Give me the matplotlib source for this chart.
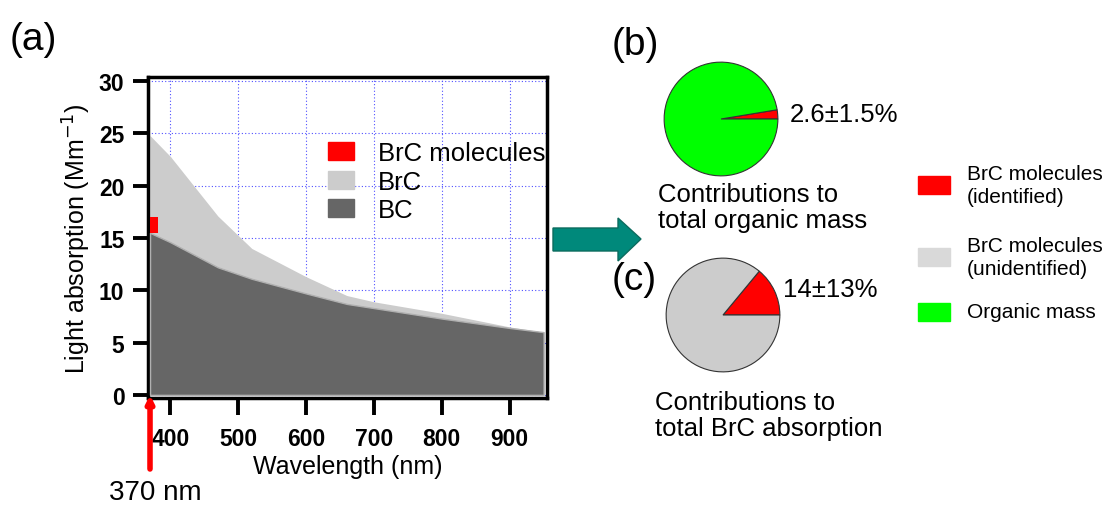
import matplotlib
matplotlib.use("Agg")
import matplotlib.pyplot as plt
from matplotlib.patches import Patch, Polygon

plt.rcParams["font.family"] = ["Liberation Sans", "DejaVu Sans"]

# absorption spectra (Mm-1)
wavelength = [370, 400, 470, 520, 600, 660, 700, 800, 900, 950]
bc_abs = [15.5, 14.6, 12.2, 11.1, 9.7, 8.7, 8.3, 7.3, 6.4, 6.0]
total_abs = [24.8, 22.8, 17.1, 14.0, 11.3, 9.5, 8.9, 7.8, 6.5, 6.0]

# BrC molecules at 370 nm, stacked on BC
mol_wl = 376
mol_bottom = 15.5
mol_height = 1.5

# pie fractions (%)
mass_frac = [2.6, 97.4]
brc_frac = [14, 86]
mass_label = "2.6±1.5%"
brc_label = "14±13%"

W, H = 1114, 506
fig = plt.figure(figsize=(W / 100, H / 100), dpi=100)


def fx(px):
    return px / W


def fy(py):
    return 1 - py / H


# ---- panel (a)
ax = fig.add_axes([fx(148), fy(399), fx(547) - fx(148), fy(78) - fy(399)])
ax.fill_between(wavelength, 0, total_abs, color="#cccccc", lw=0, zorder=2)
ax.fill_between(wavelength, 0, bc_abs, facecolor="#666666", edgecolor="#b0b0b0",
                lw=1, zorder=3)
ax.bar(mol_wl, mol_height, bottom=mol_bottom, width=12, color="red", zorder=4)

ax.set_xlim(367, 955)
ax.set_ylim(-0.3, 30.4)
ax.set_xticks([400, 500, 600, 700, 800, 900])
ax.set_yticks([0, 5, 10, 15, 20, 25, 30])
ax.grid(True, color="#5050ff", ls=(0, (1, 2)), lw=0.8, zorder=1)
ax.set_axisbelow(True)
for s in ax.spines.values():
    s.set_linewidth(2.5)
ax.tick_params(axis="x", direction="out", length=12, width=2.8, labelsize=16.5, pad=9)
ax.tick_params(axis="y", direction="out", length=10.5, width=2.8, labelsize=16.5, pad=6.5)
for lab in ax.get_xticklabels() + ax.get_yticklabels():
    lab.set_fontweight("bold")
ax.set_xlabel("Wavelength (nm)", fontsize=18, labelpad=3)
ax.set_ylabel("Light absorption (Mm$^{-1}$)", fontsize=18, labelpad=4)

handles = [Patch(color="red"), Patch(color="#cccccc"), Patch(color="#666666")]
ax.legend(handles, ["BrC molecules", "BrC", "BC"], frameon=False, fontsize=18.5,
          loc="upper left", bbox_to_anchor=(fx(328), fy(142)),
          bbox_transform=fig.transFigure, handlelength=1.0, handleheight=0.7,
          handletextpad=0.93, labelspacing=0.18, borderpad=0, borderaxespad=0)

fig.text(fx(10), fy(40), "(a)", fontsize=28, va="center", ha="left")

# 370 nm marker
ax.annotate("", xy=(370, 0), xycoords="data", xytext=(fx(150), fy(470)),
            textcoords="figure fraction",
            arrowprops=dict(arrowstyle="-|>", color="red", lw=4,
                            mutation_scale=10, shrinkA=0, shrinkB=0),
            annotation_clip=False)
fig.text(fx(155), fy(493), "370 nm", fontsize=20, ha="center", va="center")

# teal arrow
arrow_px = [(553, 229), (618, 229), (618, 219), (641, 240), (618, 262),
            (618, 252), (553, 252)]
fig.add_artist(Polygon([(fx(x), fy(y)) for x, y in arrow_px], closed=True,
                       facecolor="#00897B", edgecolor="#0b6b5e", lw=1,
                       transform=fig.transFigure))

# ---- panel (b)
r = 58
axb = fig.add_axes([fx(721 - r), fy(120 + r), fx(2 * r), 2 * r / H])
axb.pie(mass_frac, colors=["red", "#00ff00"], startangle=0, counterclock=True,
        wedgeprops=dict(edgecolor="#333333", lw=0.8))
axb.set_xlim(-1.02, 1.02)
axb.set_ylim(-1.02, 1.02)
fig.text(fx(790), fy(115), mass_label, fontsize=18.5, va="center")
fig.text(fx(612), fy(45), "(b)", fontsize=28, va="center")
fig.text(fx(658), fy(208), "Contributions to\ntotal organic mass", fontsize=18.5,
         va="center", linespacing=1.15)

# ---- panel (c)
axc = fig.add_axes([fx(723 - r), fy(316 + r), fx(2 * r), 2 * r / H])
axc.pie(brc_frac, colors=["red", "#cccccc"], startangle=0, counterclock=True,
        wedgeprops=dict(edgecolor="#333333", lw=0.8))
axc.set_xlim(-1.02, 1.02)
axc.set_ylim(-1.02, 1.02)
fig.text(fx(783), fy(290), brc_label, fontsize=18.5, va="center")
fig.text(fx(612), fy(280), "(c)", fontsize=28, va="center")
fig.text(fx(655), fy(416), "Contributions to\ntotal BrC absorption", fontsize=18.5,
         va="center", linespacing=1.15)

# ---- side legend
side = [("red", "BrC molecules\n(identified)", 186),
        ("#d9d9d9", "BrC molecules\n(unidentified)", 258),
        ("#00ff00", "Organic mass", 313)]
for col, txt, yc in side:
    fig.add_artist(Polygon([(fx(918), fy(yc - 9)), (fx(950), fy(yc - 9)),
                            (fx(950), fy(yc + 9)), (fx(918), fy(yc + 9))],
                           closed=True, color=col, transform=fig.transFigure))
    fig.text(fx(967), fy(yc), txt, fontsize=15, va="center", linespacing=1.25)

fig.savefig("out.png", dpi=100)
